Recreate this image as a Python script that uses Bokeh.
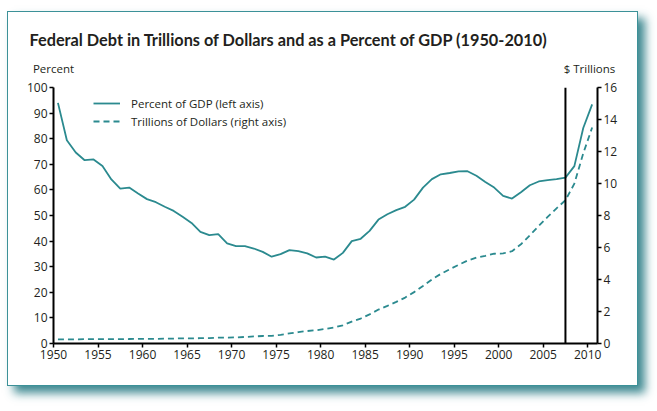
from bokeh.plotting import figure
from bokeh.models import (Range1d, LinearAxis, FixedTicker, Span,
                          Legend, LegendItem, ColumnDataSource)
from bokeh.embed import file_html
from bokeh.resources import INLINE

# ---------------- data ----------------
years = list(range(1950, 2011))
pct_gdp = [94.0, 79.4, 74.6, 71.6, 71.9, 69.3, 64.1, 60.5, 60.9, 58.6,
           56.4, 55.2, 53.4, 51.8, 49.5, 47.1, 43.6, 42.3, 42.7, 39.1,
           38.0, 38.0, 37.1, 35.8, 33.9, 34.9, 36.5, 36.1, 35.2, 33.6,
           33.9, 32.8, 35.4, 40.0, 40.9, 44.0, 48.4, 50.5, 52.1, 53.4,
           56.2, 60.9, 64.2, 66.1, 66.6, 67.2, 67.3, 65.5, 63.1, 60.9,
           57.7, 56.6, 59.1, 61.8, 63.3, 63.8, 64.2, 64.8, 69.3, 84.2,
           93.4]
trillions = [0.26, 0.26, 0.26, 0.27, 0.27, 0.27, 0.27, 0.27, 0.28, 0.29,
             0.29, 0.29, 0.30, 0.31, 0.32, 0.32, 0.33, 0.34, 0.37, 0.37,
             0.38, 0.41, 0.44, 0.47, 0.48, 0.54, 0.63, 0.71, 0.78, 0.83,
             0.91, 1.00, 1.14, 1.37, 1.56, 1.82, 2.12, 2.35, 2.60, 2.87,
             3.21, 3.60, 4.00, 4.35, 4.64, 4.92, 5.18, 5.37, 5.48, 5.61,
             5.63, 5.77, 6.20, 6.76, 7.35, 7.91, 8.45, 8.95, 9.99, 11.88,
             13.5]
x_ticks = list(range(1950, 2011, 5))
pct_ticks = list(range(0, 101, 10))
tr_ticks = list(range(0, 17, 2))
marker_year = 2007

title_text = "Federal Debt in Trillions of Dollars and as a Percent of GDP (1950-2010)"
left_unit = "Percent"
right_unit = "$ Trillions"
legend_labels = ["Percent of GDP (left axis)", "Trillions of Dollars (right axis)"]

# ---------------- styling ----------------
TEAL = "#2b8a8f"
INK = "#231f20"
FONT = "Open Sans"
TITLE_FONT = "Lato"
FY_SHIFT = 0.5               # fiscal-year points sit half a year right of the tick
UNIT_POS = [1950.0, 2010.2]  # horizontal centres of the unit captions (x-axis units)

xs = [y + FY_SHIFT for y in years]
src = ColumnDataSource(dict(x=xs, pct=pct_gdp, tr=trillions))

p = figure(width=631, height=375, output_backend="svg", toolbar_location=None,
           x_range=Range1d(1950, 2011.1), y_range=Range1d(0, 100),
           min_border_left=45, min_border_right=42,
           min_border_top=75, min_border_bottom=44)
p.extra_y_ranges = {"tr": Range1d(0, 16)}
p.outline_line_color = None
p.xgrid.visible = False
p.ygrid.visible = False
p.background_fill_color = "white"
p.border_fill_color = "white"
p.styles = {"border": "1px solid #3c9198",
            "box-shadow": "7px 7px 9px rgba(28,116,126,0.85)",
            "margin-left": "7px", "margin-top": "11px"}

p.title.text = title_text
p.title.align = "left"
p.title.offset = -24
p.title.text_font = TITLE_FONT
p.title.text_font_style = "bold"
p.title.text_font_size = "16.3px"
p.title.text_color = INK
p.title.standoff = 18

def style_axis(ax):
    ax.axis_line_color = "black"
    ax.axis_line_width = 2
    ax.major_tick_line_color = "black"
    ax.major_tick_line_width = 1.5
    ax.major_tick_out = 4
    ax.major_tick_in = 0
    ax.minor_tick_line_color = None
    ax.major_label_text_font = FONT
    ax.major_label_text_font_size = "12px"
    ax.major_label_text_color = INK
    ax.major_label_standoff = 2

p.xaxis.ticker = FixedTicker(ticks=x_ticks)
p.yaxis.ticker = FixedTicker(ticks=pct_ticks)
style_axis(p.xaxis[0])
style_axis(p.yaxis[0])

rax = LinearAxis(y_range_name="tr", ticker=FixedTicker(ticks=tr_ticks))
style_axis(rax)
p.add_layout(rax, "right")

# unit captions above the two value axes
hdr = LinearAxis(ticker=FixedTicker(ticks=UNIT_POS),
                 major_label_overrides={UNIT_POS[0]: left_unit,
                                        UNIT_POS[1]: right_unit})
hdr.axis_line_color = None
hdr.major_tick_line_color = None
hdr.minor_tick_line_color = None
hdr.major_tick_out = 0
hdr.major_tick_in = 0
hdr.major_label_standoff = 12
hdr.major_label_text_font = FONT
hdr.major_label_text_font_size = "11.5px"
hdr.major_label_text_color = INK
p.add_layout(hdr, "above")

r_pct = p.line("x", "pct", source=src, line_color=TEAL, line_width=1.8)
r_tr = p.line("x", "tr", source=src, y_range_name="tr", line_color=TEAL,
              line_width=1.8, line_dash="6 4")

p.add_layout(Span(location=marker_year + FY_SHIFT, dimension="height",
                  line_color="black", line_width=2))

legend = Legend(items=[LegendItem(label=legend_labels[0], renderers=[r_pct]),
                       LegendItem(label=legend_labels[1], renderers=[r_tr])],
                location=(40, 213), padding=4, spacing=0,
                glyph_width=27, glyph_height=18, label_height=18,
                label_standoff=11, border_line_color=None,
                background_fill_alpha=0,
                label_text_font=FONT, label_text_font_size="11.5px",
                label_text_color=INK)
p.add_layout(legend)

open("out.html", "w").write(file_html(p, INLINE))
